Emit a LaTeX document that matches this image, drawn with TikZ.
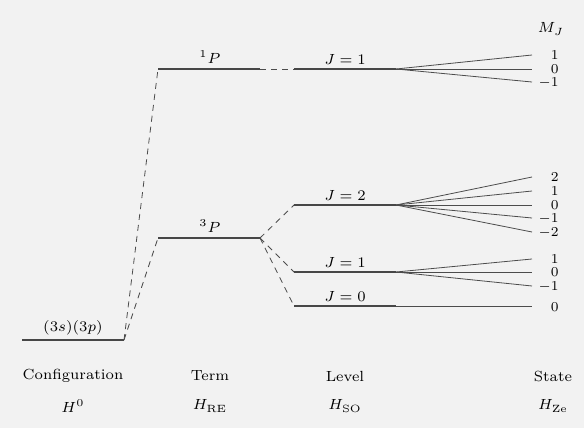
\documentclass[tikz,border=0pt]{standalone}
\begin{document}
\begin{tikzpicture}[x=1pt,y=-1pt,
  lev/.style={line width=1.8pt,draw=black!72},
  fan/.style={line width=0.8pt,draw=black!70},
  conn/.style={dash pattern=on 6pt off 5pt,line width=0.8pt,draw=black!70},
  lbl/.style={font=\fontsize{7}{8}\selectfont,scale=2.1,text=black,inner sep=0.3pt},
  mj/.style={font=\fontsize{7}{8}\selectfont,scale=1.95,text=black,anchor=east,inner sep=0pt,text height=4.4pt,text depth=0pt}]
\fill[black!5] (0,0) rectangle (584,428);
\useasboundingbox (0,0) rectangle (584,428);
% level coordinates
\coordinate (c1) at (22,340);  \coordinate (c2) at (124,340);
\coordinate (p1a) at (158,69); \coordinate (p1b) at (260,69);
\coordinate (p3a) at (158,238); \coordinate (p3b) at (260,238);
\coordinate (t1a) at (294,69); \coordinate (t1b) at (396,69);
\coordinate (j2a) at (294,205); \coordinate (j2b) at (396,205);
\coordinate (j1a) at (294,272); \coordinate (j1b) at (396,272);
\coordinate (j0a) at (294,306); \coordinate (j0b) at (396,306);
% level lines
\draw[lev] (c1) -- (c2);
\draw[lev] (p1a) -- (p1b);
\draw[lev] (p3a) -- (p3b);
\draw[lev] (t1a) -- (t1b);
\draw[lev] (j2a) -- (j2b);
\draw[lev] (j1a) -- (j1b);
\draw[lev] (j0a) -- (j0b);
% dashed connectors
\draw[conn] (c2) -- (p1a);
\draw[conn] (c2) -- (p3a);
\draw[conn] (p1b) -- (t1a);
\draw[conn] (p3b) -- (j2a);
\draw[conn] (p3b) -- (j1a);
\draw[conn] (p3b) -- (j0a);
% level labels
\node[lbl] (lc) at (73,328) {$(3s)(3p)$};
\node[lbl] (l1p) at (210,57) {$^1P$};
\node[lbl] (l3p) at (210,226) {$^3P$};
\node[lbl] (lt1) at (345,59) {$J=1$};
\node[lbl] (lj2) at (345,195) {$J=2$};
\node[lbl] (lj1) at (345,262) {$J=1$};
\node[lbl] (lj0) at (345,296) {$J=0$};
% fan ends
\foreach \n/\y in {a1/55,a0/69,am1/82, b2/177,b1/191,b0/205,bm1/218,bm2/232, d1/259,d0/272,dm1/286, e0/306}
  \coordinate (f\n) at (532,\y);
\foreach \n in {a1,a0,am1} \draw[fan] (t1b) -- (f\n);
\foreach \n in {b2,b1,b0,bm1,bm2} \draw[fan] (j2b) -- (f\n);
\foreach \n in {d1,d0,dm1} \draw[fan] (j1b) -- (f\n);
\draw[fan] (j0b) -- (fe0);
% M_J labels
\node[mj] (ma1) at (559,55) {$1$};
\node[mj] (ma0) at (559,69) {$0$};
\node[mj] (mam1) at (559,82) {$-1$};
\node[mj] (mb2) at (559,177) {$2$};
\node[mj] (mb1) at (559,191) {$1$};
\node[mj] (mb0) at (559,205) {$0$};
\node[mj] (mbm1) at (559,218) {$-1$};
\node[mj] (mbm2) at (559,232) {$-2$};
\node[mj] (md1) at (559,259) {$1$};
\node[mj] (md0) at (559,272) {$0$};
\node[mj] (mdm1) at (559,286) {$-1$};
\node[mj] (me0) at (559,307) {$0$};
\node[lbl] (mjh) at (551,29) {$M_J$};
% bottom labels
\node[lbl] (bc) at (73,376) {Configuration};
\node[lbl] (bt) at (210,376) {Term};
\node[lbl] (bl) at (345,376) {Level};
\node[lbl] (bs) at (553,376) {State};
\node[lbl] (hc) at (73,406) {$H^0$};
\node[lbl] (ht) at (210,406) {$H_{\mathrm{RE}}$};
\node[lbl] (hl) at (345,406) {$H_{\mathrm{SO}}$};
\node[lbl] (hs) at (553,406) {$H_{\mathrm{Ze}}$};
\end{tikzpicture}
\end{document}
